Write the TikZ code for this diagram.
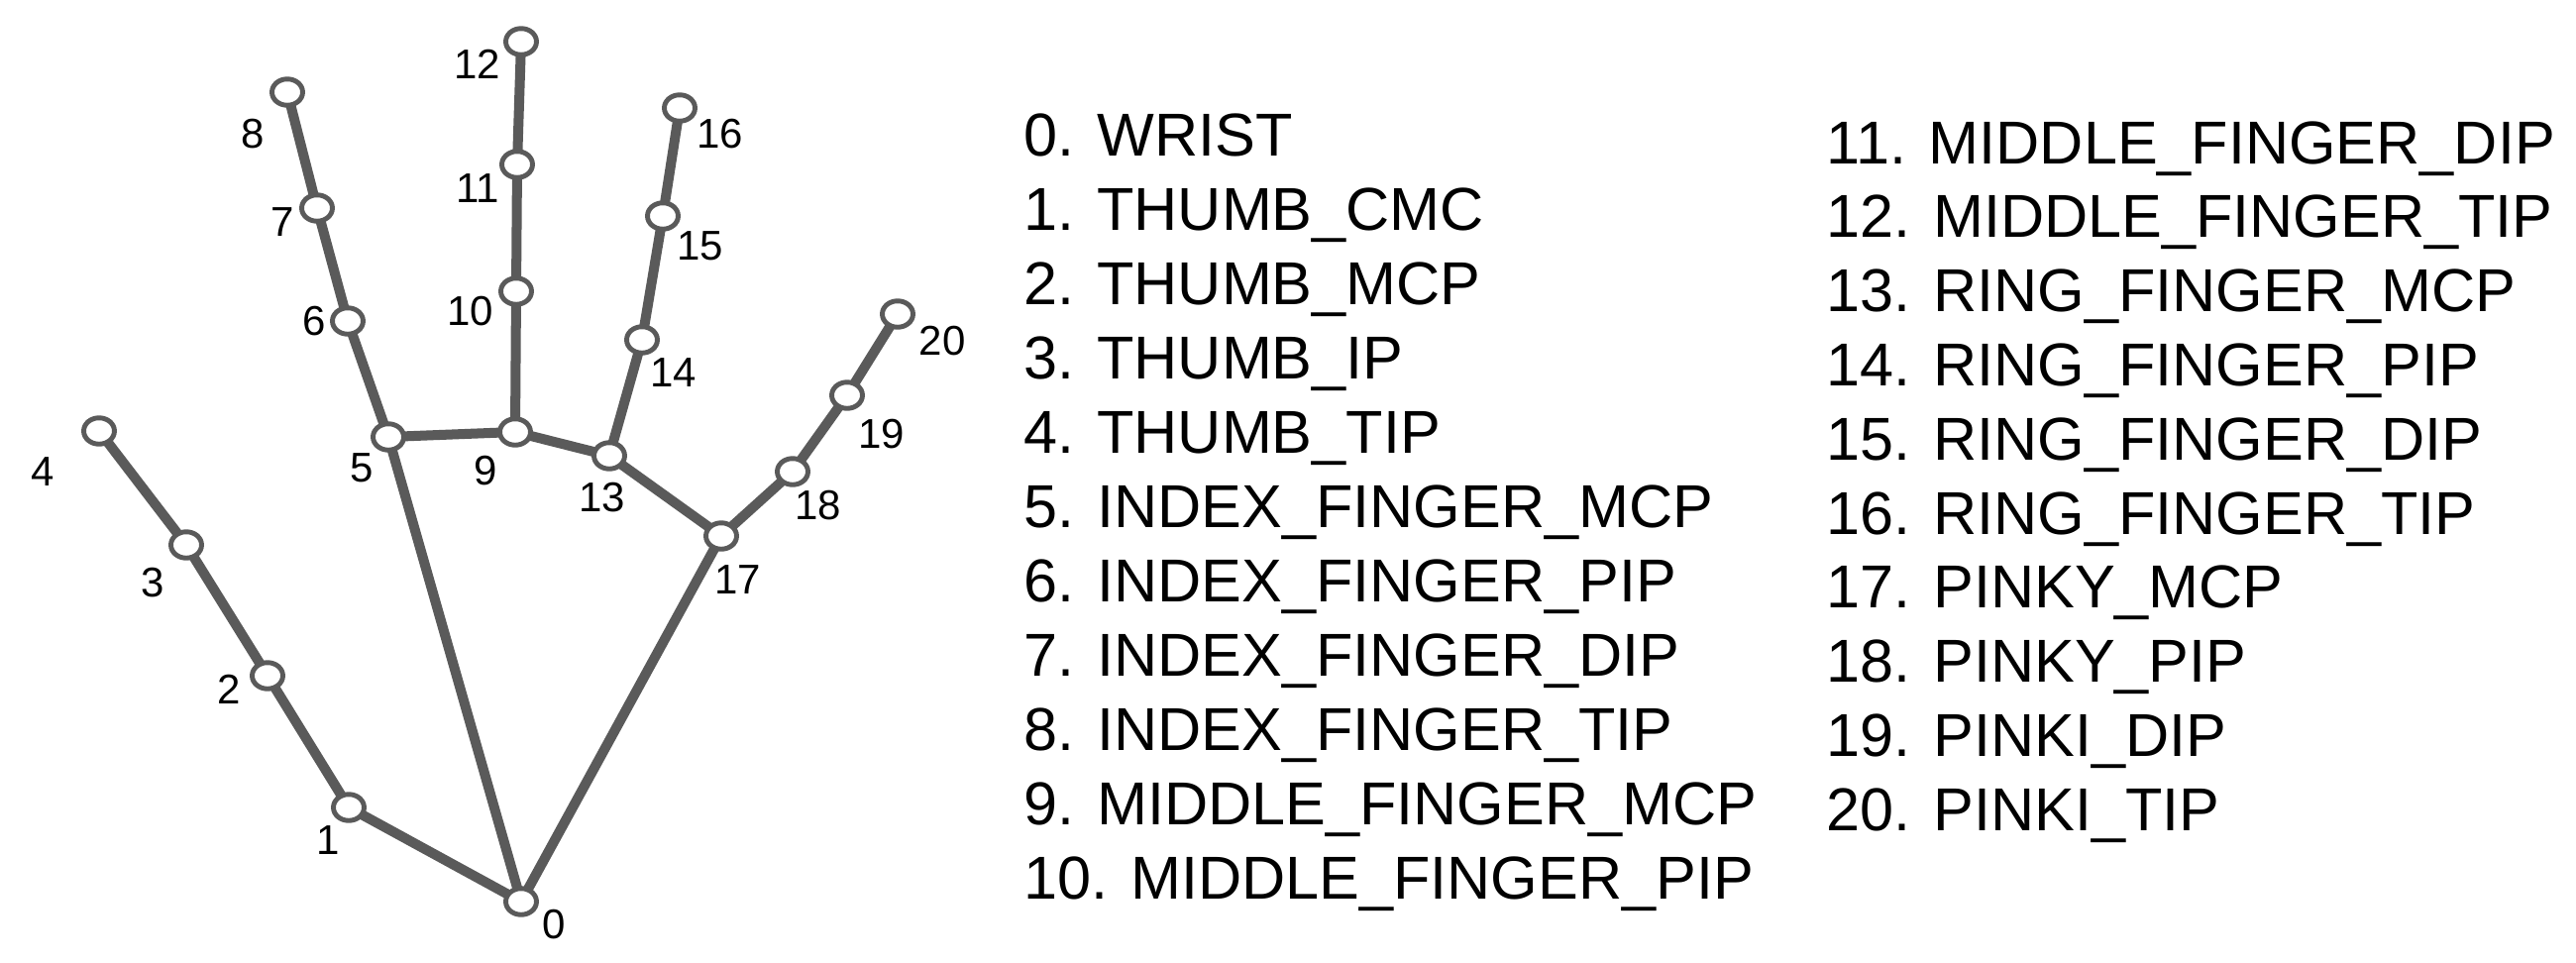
\documentclass[tikz,border=0pt]{standalone}
\usepackage{fontspec}
\setmainfont{Liberation Sans}
\usetikzlibrary{shapes.geometric,backgrounds}
\definecolor{bone}{HTML}{5A5A5A}
\tikzset{
  joint/.style={ellipse, draw=bone, line width=1.4pt, fill=white,
    minimum width=3.1mm, minimum height=2.65mm, inner sep=0pt},
  link/.style={draw=bone, line width=2.85pt},
  num/.style={inner sep=0pt, font=\fontsize{11.95pt}{14pt}\selectfont},
  entry/.style={anchor=base west, inner sep=0pt, font=\fontsize{17.4pt}{20pt}\selectfont},
}

\begin{document}
\begin{tikzpicture}[x=0.1mm, y=-0.1mm]
  \useasboundingbox (0,0) rectangle (2600,971);
  % joints
  \foreach \i/\x/\y in {0/526/910, 1/352/815, 2/270/682, 3/188/550, 4/100/435,
      5/392/441, 6/351/324, 7/320/210, 8/290/93, 9/520/436, 10/521/294,
      11/522/166, 12/526/42, 13/615/460, 14/648/343, 15/669/218, 16/686/109,
      17/728/541, 18/800/476, 19/855/399, 20/906/317}
    \node[joint] (j\i) at (\x,\y) {};
  % numbers
  \foreach \i/\x/\y in {0/559/933, 1/331/848, 2/231/696, 3/154/588, 4/43/476,
      5/365/472, 6/317/324, 7/285/224, 8/255/135, 9/490/475, 10/475/314,
      11/482/190, 12/482/65, 13/608/502, 14/680/376, 15/707/248, 16/727/135,
      17/745/585, 18/826/510, 19/890/438, 20/951/344}
    \node[num] (l\i) at (\x,\y) {\i};
  % bones
  \begin{scope}[on background layer]
    \foreach \a/\b in {0/1, 1/2, 2/3, 3/4, 0/5, 5/6, 6/7, 7/8, 5/9, 9/10,
        10/11, 11/12, 9/13, 13/14, 14/15, 15/16, 13/17, 0/17, 17/18, 18/19, 19/20}
      \draw[link] (j\a.center) -- (j\b.center);
  \end{scope}
  % legend
  \foreach \n [count=\i from 0] in {WRIST, THUMB\_CMC, THUMB\_MCP, THUMB\_IP,
      THUMB\_TIP, INDEX\_FINGER\_MCP, INDEX\_FINGER\_PIP, INDEX\_FINGER\_DIP,
      INDEX\_FINGER\_TIP, MIDDLE\_FINGER\_MCP, MIDDLE\_FINGER\_PIP}
    \node[entry] (n\i) at (1033,{157+75*\i}) {\i. \n};
  \foreach \n [count=\i from 11] in {MIDDLE\_FINGER\_DIP, MIDDLE\_FINGER\_TIP,
      RING\_FINGER\_MCP, RING\_FINGER\_PIP, RING\_FINGER\_DIP, RING\_FINGER\_TIP,
      PINKY\_MCP, PINKY\_PIP, PINKI\_DIP, PINKI\_TIP}
    \node[entry] (n\i) at (1843,{165+74.8*(\i-11)}) {\i. \n};
\end{tikzpicture}
\end{document}
